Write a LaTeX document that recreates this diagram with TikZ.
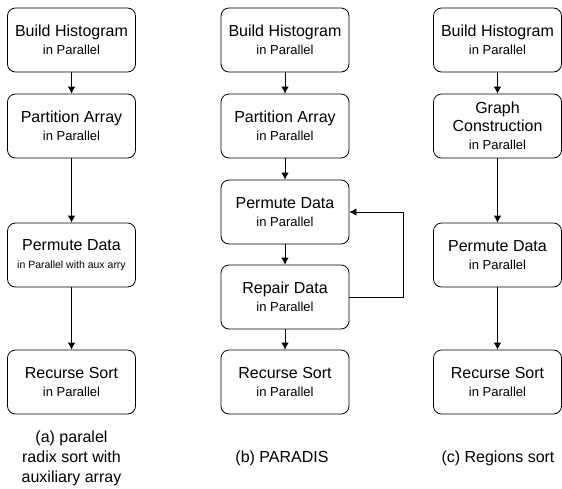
\documentclass[tikz,border=0pt]{standalone}
\usepackage{fontspec}
\setmainfont{Liberation Sans}
\usetikzlibrary{arrows.meta}
\newcommand{\parsub}[1]{{\fontsize{13}{16}\selectfont #1}}
\begin{document}
\begin{tikzpicture}[x=1pt,y=-1pt,
    box/.style={draw, rounded corners=8pt, line width=0.8pt, minimum width=128pt, minimum height=64pt,
      align=center, inner sep=0pt, font=\fontsize{16}{18}\selectfont},
    subcap/.style={align=center, font=\fontsize{16}{20}\selectfont},
    flow/.style={->,>={Latex[length=7pt,width=7.5pt]}, line width=0.8pt}]
  \useasboundingbox (0,0) rectangle (562,488);
  % (a) radix sort with aux array
  \node[box] (a1) at (71.5,40) {Build Histogram\\\parsub{in Parallel}};
  \node[box] (a2) at (71.5,126) {Partition Array\\\parsub{in Parallel}};
  \node[box] (a3) at (71.5,255) {Permute Data\\{\fontsize{10.5}{14}\selectfont in Parallel with aux arry}};
  \node[box] (a4) at (71.5,382) {Recurse Sort\\\parsub{in Parallel}};
  \draw[flow] (a1) -- (a2);
  \draw[flow] (a2) -- (a3);
  \draw[flow] (a3) -- (a4);
  \node[subcap] (capa) at (71.5,458) {(a) paralel\\radix sort with\\auxiliary array};
  % (b) PARADIS
  \node[box] (b1) at (285,40) {Build Histogram\\\parsub{in Parallel}};
  \node[box] (b2) at (285,126) {Partition Array\\\parsub{in Parallel}};
  \node[box] (b3) at (285,212) {Permute Data\\\parsub{in Parallel}};
  \node[box] (b4) at (285,297) {Repair Data\\\parsub{in Parallel}};
  \node[box] (b5) at (285,382) {Recurse Sort\\\parsub{in Parallel}};
  \draw[flow] (b1) -- (b2);
  \draw[flow] (b2) -- (b3);
  \draw[flow] (b3) -- (b4);
  \draw[flow] (b4) -- (b5);
  \draw[flow] (b4.east) -- ++(54,0) |- (b3.east);
  \node[subcap] (capb) at (282,458) {(b) PARADIS};
  % (c) Regions sort
  \node[box] (c1) at (497.5,40) {Build Histogram\\\parsub{in Parallel}};
  \node[box] (c2) at (497.5,126) {Graph\\Construction\\\parsub{in Parallel}};
  \node[box] (c3) at (497.5,255) {Permute Data\\\parsub{in Parallel}};
  \node[box] (c4) at (497.5,382) {Recurse Sort\\\parsub{in Parallel}};
  \draw[flow] (c1) -- (c2);
  \draw[flow] (c2) -- (c3);
  \draw[flow] (c3) -- (c4);
  \node[subcap] (capc) at (498,458) {(c) Regions sort};
\end{tikzpicture}
\end{document}
